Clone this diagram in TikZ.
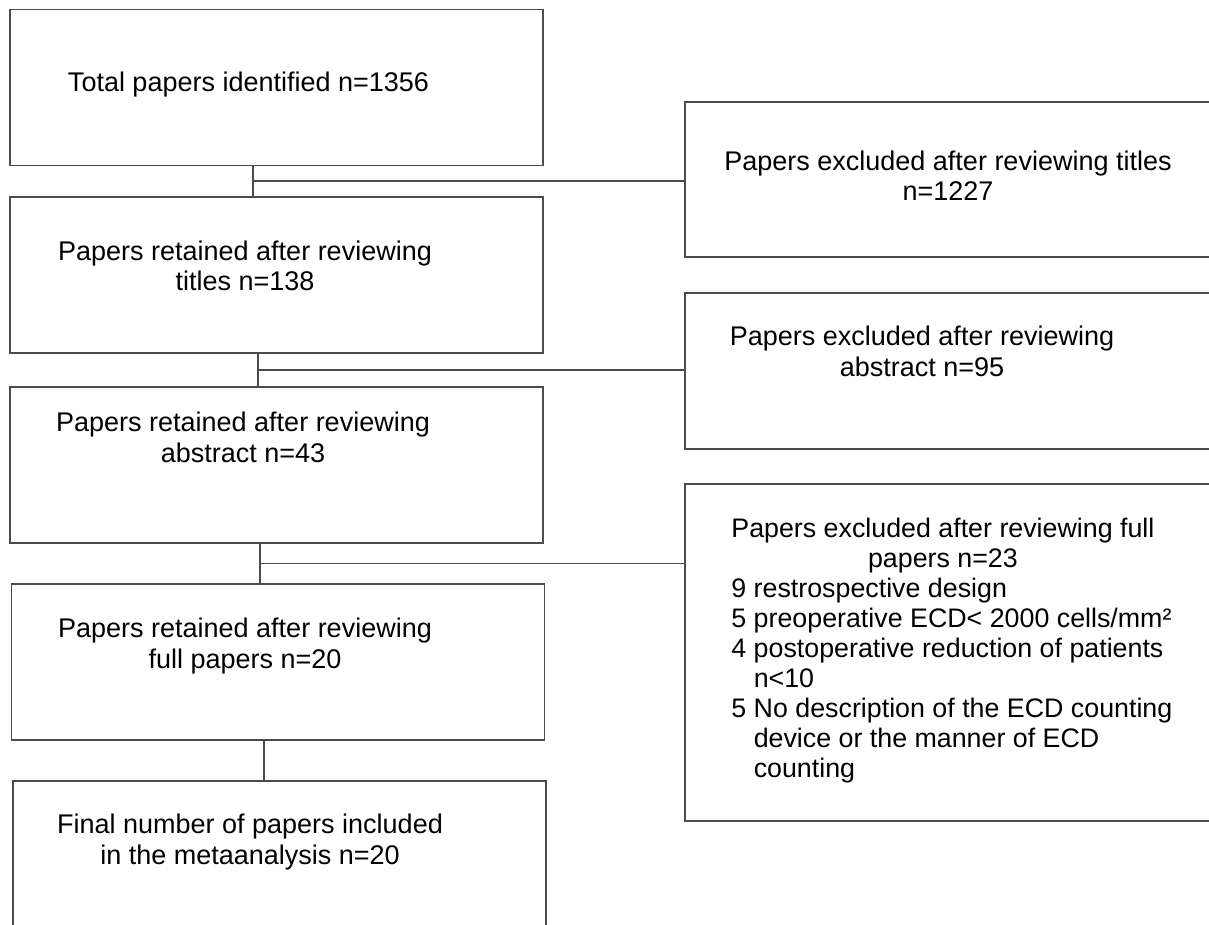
\documentclass[tikz,border=0pt]{standalone}
\usepackage{fontspec}
\setmainfont{Liberation Sans}
\usetikzlibrary{positioning}

\tikzset{
  box/.style={draw=black!70, line width=0.9pt, rectangle, inner sep=0pt,
    minimum width=266.5pt, minimum height=78pt},
  exbox/.style={box, minimum width=265pt},
  txt/.style={inner sep=0pt, anchor=base, align=center,
    font=\fontsize{13.5}{15.4}\selectfont},
  link/.style={draw=black!70, line width=0.9pt}
}

\begin{document}
\begin{tikzpicture}[x=0.5pt, y=-0.5pt]
  \useasboundingbox (0,0) rectangle (1209,925);
  \clip (0,0) rectangle (1209,925);

  % retained column
  \node [box] (total) at (276.5,87.5) {};
  \node [box, below=15pt of total] (titles) {};
  \node [box, below=16pt of titles] (abstr) {};
  \node [box, below=19.5pt of abstr, xshift=0.75pt] (full) {};
  \node [box, below=19.5pt of full, xshift=0.75pt] (final) {};

  % excluded column
  \node [exbox, minimum height=77.5pt] (exclA) at (950,179.5) {};
  \node [exbox] (exclB) at (950,371) {};
  \node [exbox, minimum height=168.5pt] (exclC) at (950,652.5) {};

  % texts (base = last line)
  \node [txt] (total-t) at ([shift={(-28,4.5)}]total.center)
    {Total papers identified n=1356};
  \node [txt] (titles-t) at ([shift={(-31.5,15.5)}]titles.center)
    {Papers retained after reviewing\\titles n=138};
  \node [txt] (abstr-t) at ([shift={(-33.5,-2.5)}]abstr.center)
    {Papers retained after reviewing\\abstract n=43};
  \node [txt] (full-t) at ([shift={(-33,6.5)}]full.center)
    {Papers retained after reviewing\\full papers n=20};
  \node [txt] (final-t) at ([shift={(-29.5,5.5)}]final.center)
    {Final number of papers included\\in the metaanalysis n=20};
  \node [txt] (exclA-t) at ([shift={(-2,21.5)}]exclA.center)
    {Papers excluded after reviewing titles\\n=1227};
  \node [txt] (exclB-t) at ([shift={(-28,5)}]exclB.center)
    {Papers excluded after reviewing\\abstract n=95};
  \node [txt, anchor=base west, align=left,
    font=\fontsize{13.4}{15}\selectfont] (exclC-t)
    at ([shift={(-219,124.5)}]exclC.center)
    {Papers excluded after reviewing full\\
     \hspace*{5.1em}papers n=23\\
     9 restrospective design\\
     5 preoperative ECD< 2000 cells/mm²\\
     4 postoperative reduction of patients\\
     \hphantom{4 }n<10\\
     5 No description of the ECD counting\\
     \hphantom{5 }device or the manner of ECD\\
     \hphantom{5 }counting};

  % connectors
  \draw [link] ([xshift=-11.6pt]total.south) -- node [coordinate] (j1) {}
    ([xshift=-11.6pt]titles.north);
  \draw [link] (j1) -- (j1 -| exclA.west);
  \draw [link] ([xshift=-9.25pt]titles.south) -- node [coordinate] (j2) {}
    ([xshift=-9.25pt]abstr.north);
  \draw [link] (j2) -- (j2 -| exclB.west);
  \draw [link] ([xshift=-8.25pt]abstr.south) -- node [coordinate] (j3) {}
    ([xshift=-8.25pt]abstr.south |- full.north);
  \draw [link] (j3) -- (j3 -| exclC.west);
  \draw [link] ([xshift=-7pt]full.south) -- ([xshift=-7pt]full.south |- final.north);
\end{tikzpicture}
\end{document}
